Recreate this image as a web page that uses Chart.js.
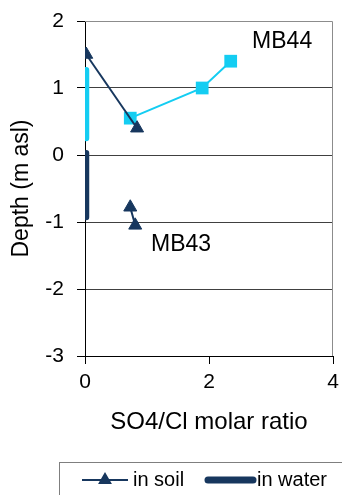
<!DOCTYPE html>
<html>
<head>
<meta charset="utf-8">
<script src="https://cdn.jsdelivr.net/npm/chart.js@4"></script>
<style>
  html, body { margin: 0; padding: 0; background: #fff; }
  #wrap { width: 342px; height: 495px; }
</style>
</head>
<body>
<div id="wrap"><canvas id="canvasChart" width="342" height="495"></canvas></div>
<script>
// data: x = SO4/Cl molar ratio, y = depth (m asl)
const soilMB44X = [0.02, 0.84];
const soilMB44Y = [1.5, 0.4];
const soilMB43X = [0.73, 0.81];
const soilMB43Y = [-0.78, -1.05];
const waterMB44X = [0.73, 1.89, 2.35];
const waterMB44Y = [0.55, 1.0, 1.4];
const rangeMB44X = [0.02, 0.02];
const rangeMB44Y = [1.27, 0.25];
const rangeMB43X = [0.02, 0.02];
const rangeMB43Y = [0.03, -0.93];
const xTicks = [0, 2, 4];
const yTicks = [2, 1, 0, -1, -2, -3];
const siteLabels = ['MB44', 'MB43'];
const siteLabelX = [3.18, 1.55];
const siteLabelY = [1.69, -1.34];
const legendLabels = ['in soil', 'in water'];

const NAVY = '#17375e';
const CYAN = '#14cdf2';
const FONT = "'Liberation Sans', Arial, sans-serif";

function toPoints(xs, ys) {
    return xs.map((x, i) => ({ x: x, y: ys[i] }));
}

// MB43 / MB44 text labels placed at data coordinates
const siteLabelPlugin = {
    id: 'siteLabels',
    afterDatasetsDraw(chart) {
        const ctx = chart.ctx;
        const sx = chart.scales.x, sy = chart.scales.y;
        ctx.save();
        ctx.fillStyle = '#000';
        ctx.font = '23px ' + FONT;
        ctx.textAlign = 'center';
        ctx.textBaseline = 'middle';
        siteLabels.forEach((t, i) => {
            ctx.fillText(t, sx.getPixelForValue(siteLabelX[i]), sy.getPixelForValue(siteLabelY[i]));
        });
        ctx.restore();
    }
};

// gray frame on top/right of the plot area
const framePlugin = {
    id: 'frame',
    beforeDatasetsDraw(chart) {
        const a = chart.chartArea, ctx = chart.ctx;
        ctx.save();
        ctx.strokeStyle = '#8c8c8c';
        ctx.lineWidth = 1;
        ctx.beginPath();
        ctx.moveTo(a.left, a.top + 0.5);
        ctx.lineTo(a.right - 0.5, a.top + 0.5);
        ctx.lineTo(a.right - 0.5, a.bottom);
        ctx.stroke();
        ctx.restore();
    }
};

// boxed legend at the bottom (cut off on the right as in the original)
const legendPlugin = {
    id: 'boxLegend',
    afterDraw(chart) {
        const ctx = chart.ctx;
        ctx.save();
        ctx.strokeStyle = '#7f7f7f';
        ctx.lineWidth = 1;
        ctx.strokeRect(59.5, 462.5, 300, 60);

        const ly = 480;
        // in soil
        ctx.strokeStyle = NAVY;
        ctx.lineWidth = 2;
        ctx.beginPath();
        ctx.moveTo(82, ly);
        ctx.lineTo(128, ly);
        ctx.stroke();
        ctx.fillStyle = NAVY;
        Chart.helpers.drawPoint(ctx, { pointStyle: 'triangle', radius: 6, borderWidth: 1 }, 105, ly);
        ctx.fill();

        // in water
        ctx.lineWidth = 7;
        ctx.lineCap = 'round';
        ctx.beginPath();
        ctx.moveTo(208, ly);
        ctx.lineTo(253, ly);
        ctx.stroke();

        ctx.fillStyle = '#000';
        ctx.font = '20px ' + FONT;
        ctx.textAlign = 'left';
        ctx.textBaseline = 'middle';
        ctx.fillText(legendLabels[0], 133, ly);
        ctx.fillText(legendLabels[1], 257, ly);
        ctx.restore();
    }
};

const ctx = document.getElementById('canvasChart').getContext('2d');
new Chart(ctx, {
    type: 'scatter',
    data: {
        datasets: [
            {
                label: 'MB44 water range',
                data: toPoints(rangeMB44X, rangeMB44Y),
                showLine: true,
                borderColor: CYAN,
                borderWidth: 6,
                borderCapStyle: 'round',
                pointRadius: 0
            },
            {
                label: 'MB43 water range',
                data: toPoints(rangeMB43X, rangeMB43Y),
                showLine: true,
                borderColor: NAVY,
                borderWidth: 6,
                borderCapStyle: 'round',
                pointRadius: 0
            },
            {
                label: 'MB44 in soil',
                data: toPoints(soilMB44X, soilMB44Y),
                showLine: true,
                borderColor: NAVY,
                borderWidth: 2,
                backgroundColor: NAVY,
                pointStyle: 'triangle',
                pointRadius: 7.5,
                pointBorderWidth: 1
            },
            {
                label: 'MB43 in soil',
                data: toPoints(soilMB43X, soilMB43Y),
                showLine: true,
                borderColor: NAVY,
                borderWidth: 2,
                backgroundColor: NAVY,
                pointStyle: 'triangle',
                pointRadius: 7.5,
                pointBorderWidth: 1
            },
            {
                label: 'MB44 in water',
                data: toPoints(waterMB44X, waterMB44Y),
                showLine: true,
                borderColor: CYAN,
                borderWidth: 2,
                backgroundColor: CYAN,
                pointStyle: 'rect',
                pointRadius: 9,
                pointBorderWidth: 0
            }
        ]
    },
    options: {
        responsive: false,
        animation: false,
        layout: { padding: { left: 0, right: 9, top: 21, bottom: 54 } },
        plugins: {
            legend: { display: false },
            tooltip: { enabled: false }
        },
        scales: {
            x: {
                type: 'linear',
                min: 0,
                max: 4,
                afterBuildTicks: (s) => { s.ticks = xTicks.map(v => ({ value: v })); },
                afterFit: (s) => { s.height = 85; s.paddingLeft = 0; s.paddingRight = 0; },
                border: { display: true, color: '#000', width: 1 },
                grid: {
                    color: 'rgba(0,0,0,0)',
                    tickColor: '#000',
                    tickLength: 8,
                    drawOnChartArea: false
                },
                ticks: {
                    color: '#000',
                    padding: 6,
                    font: { family: FONT, size: 21 }
                },
                title: {
                    display: true,
                    text: 'SO4/Cl molar ratio',
                    color: '#000',
                    padding: { top: 0, bottom: 4 },
                    font: { family: FONT, size: 24 }
                }
            },
            y: {
                type: 'linear',
                min: -3,
                max: 2,
                afterBuildTicks: (s) => { s.ticks = yTicks.map(v => ({ value: v })); },
                afterFit: (s) => { s.width = 85; s.paddingTop = 0; s.paddingBottom = 0; },
                border: { display: true, color: '#000', width: 1 },
                grid: {
                    color: (c) => (c.tick && (c.tick.value === 2 || c.tick.value === -3)) ? 'rgba(0,0,0,0)' : '#404040',
                    tickColor: '#000',
                    tickLength: 8
                },
                ticks: {
                    color: '#000',
                    padding: 13,
                    font: { family: FONT, size: 21 }
                },
                title: {
                    display: true,
                    text: 'Depth (m asl)',
                    color: '#000',
                    padding: { top: 8, bottom: 0 },
                    font: { family: FONT, size: 23 }
                }
            }
        }
    },
    plugins: [framePlugin, siteLabelPlugin, legendPlugin]
});
</script>
</body>
</html>
